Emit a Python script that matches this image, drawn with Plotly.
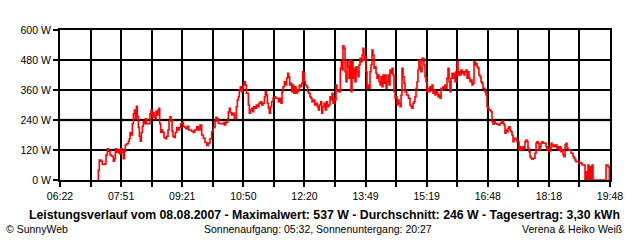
import plotly.graph_objects as go

# time in minutes after midnight, power in W
t1 = [437.5, 438.2, 439.6, 442.1, 444.0, 447.9, 449.4, 451.4, 452.8, 455.3, 457.7, 460.2, 461.6, 463.1, 465.0, 467.0,
      469.0, 470.9, 473.4, 474.8, 476.3, 477.8, 479.7, 482.2, 483.6, 484.6, 486.5, 488.0, 489.5, 491.0, 492.4,
      493.9, 495.3, 496.8, 498.3, 499.7, 501.2, 502.7, 504.1, 505.6, 507.1, 509.0, 511.5, 512.9, 513.9, 515.4,
      516.8, 518.3, 519.8, 521.2, 522.7, 524.2, 525.6, 527.1, 528.1, 529.5, 531.0, 532.5, 534.4, 536.4, 538.3,
      540.3, 541.8, 543.2, 544.7, 546.2, 547.6, 549.1, 551.0, 553.0, 555.0, 556.9, 558.9, 560.8, 562.8, 564.7,
      566.7, 568.6, 570.6, 572.5, 575.0, 577.4, 579.4]
p1 = [0, 40, 80, 75, 62, 65, 100, 125, 115, 100, 95, 75, 85, 125, 110, 120,
      105, 125, 110, 85, 115, 140, 145, 155, 165, 190, 180, 225, 265, 280, 245,
      295, 255, 210, 175, 155, 190, 215, 235, 225, 245, 225, 225, 225, 265, 280,
      250, 270, 255, 245, 275, 260, 280, 287, 225, 190, 200, 190, 170, 165, 175,
      200, 235, 253, 240, 195, 175, 170, 190, 210, 200, 210, 225, 230, 215, 210,
      205, 215, 200, 200, 195, 190, 200]

t2 = [582.3, 584.7, 587.2, 589.6, 592.1, 594.5, 597.0, 599.4, 601.8, 604.3, 606.7, 609.2, 610.6, 612.1, 614.0,
      616.5, 618.9, 621.4, 622.8, 624.8, 626.3, 627.7, 628.7, 630.2, 631.6, 633.6, 635.5, 637.5, 639.0, 640.4,
      641.9, 643.4, 644.8, 646.3, 647.8, 649.2, 650.7, 652.1, 653.6, 655.1, 656.5, 658.0, 659.5, 660.9, 662.9,
      664.4, 665.8, 667.8, 669.7, 671.7, 673.6, 675.6, 677.6, 679.5, 681.5, 682.9, 684.4, 685.9, 687.3, 688.8,
      690.3, 692.2, 694.2, 696.1, 698.1, 700.0, 702.0, 704.0, 705.9, 707.4, 708.8, 710.8, 712.2, 714.2, 715.7,
      717.1, 718.6, 720.1, 721.5, 723.0, 724.5, 726.4, 727.9, 729.3, 731.3, 732.8]
p2 = [213, 200, 220, 180, 167, 150, 138, 148, 165, 193, 210, 235, 251, 245, 227,
      225, 225, 230, 220, 232, 230, 245, 273, 287, 269, 260, 267, 247, 247, 293,
      320, 333, 360, 373, 353, 367, 380, 393, 380, 347, 347, 300, 267, 280, 287,
      273, 293, 287, 300, 293, 307, 313, 300, 307, 333, 353, 340, 307, 287, 267,
      293, 313, 327, 333, 327, 327, 313, 327, 307, 353, 373, 393, 380, 407, 427,
      413, 380, 387, 353, 380, 347, 373, 347, 353, 360, 380]

t3 = [733.7, 736.2, 737.6, 738.6, 740.1, 741.5, 743.5, 745.0, 746.4, 748.4, 749.8, 751.3, 753.3, 755.2, 757.2,
      759.1, 760.6, 762.0, 764.0, 765.5, 766.9, 768.9, 770.8, 772.3, 773.8, 775.7, 777.7, 779.1, 780.6, 782.1,
      783.5, 785.0, 786.5, 787.9, 789.4, 791.4, 792.8, 794.3, 795.8, 796.7, 798.2, 799.7, 801.1, 802.6, 804.1,
      805.5, 807.0, 808.5, 809.9, 811.4, 812.9, 814.3, 815.8, 817.3, 818.7, 820.2, 821.7, 823.1, 824.6, 826.1,
      827.5, 829.0, 830.4, 831.9, 833.4, 834.8, 836.3, 837.8, 839.2, 840.7, 842.2, 843.6, 845.1, 846.6, 848.0,
      849.5, 851.0, 852.4, 853.9, 855.4, 856.8, 858.3, 859.8, 861.2, 862.7, 864.2, 865.6, 867.1, 868.6, 870.0,
      871.5, 873.0, 874.4, 875.9, 877.4, 878.8, 880.3, 881.8, 883.2, 884.7, 886.2]
p3 = [373, 387, 433, 427, 393, 380, 373, 353, 347, 333, 327, 313, 320, 300, 307,
      293, 280, 300, 313, 267, 293, 307, 280, 313, 293, 300, 333, 320, 347, 307,
      327, 320, 380, 360, 353, 353, 447, 473, 440, 537, 527, 433, 393, 473, 453,
      407, 480, 353, 473, 407, 447, 393, 453, 433, 413, 460, 487, 473, 500, 527,
      480, 493, 433, 367, 380, 367, 433, 460, 520, 500, 447, 453, 427, 407, 420,
      393, 380, 413, 373, 420, 387, 420, 367, 393, 420, 380, 440, 427, 447, 420,
      353, 327, 333, 300, 320, 307, 293, 340, 447, 413, 387]

t4 = [887.6, 890.0, 892.5, 894.9, 896.4, 897.8, 899.3, 900.8, 902.2, 903.7, 905.2, 906.6, 908.1, 909.6, 911.0,
      912.5, 914.0, 915.4, 916.9, 918.4, 919.8, 921.3, 922.8, 924.2, 925.7, 927.2, 928.6, 930.1, 931.6, 933.0,
      934.5, 936.0, 937.4, 938.9, 940.4, 941.8, 943.3, 944.7, 946.2, 947.7, 949.1, 950.6, 952.1, 953.5, 955.0,
      956.5, 957.9, 959.4, 960.9, 962.3, 963.8, 965.3, 966.7, 968.2, 969.7, 971.1, 972.6, 974.1, 975.5, 977.0,
      978.5, 979.9, 981.4, 982.9, 984.3, 985.8, 987.3, 988.7, 990.2, 991.6, 993.1, 994.6, 996.0, 997.5, 999.0,
      1000.4, 1001.9, 1003.4, 1004.8, 1006.3, 1007.8, 1009.2, 1010.7, 1012.2, 1013.6, 1015.1, 1016.6, 1018.0,
      1019.5, 1021.0, 1022.4, 1024.4, 1026.8, 1029.3, 1031.2, 1032.7]
p4 = [353, 340, 327, 300, 293, 287, 307, 313, 333, 367, 393, 440, 480, 447, 433,
      487, 487, 460, 413, 393, 353, 367, 353, 373, 367, 380, 347, 360, 340, 353,
      347, 333, 340, 327, 367, 360, 373, 367, 380, 367, 407, 447, 393, 353, 407,
      427, 407, 427, 393, 433, 473, 420, 433, 420, 440, 427, 433, 420, 433, 440,
      407, 433, 407, 393, 400, 380, 387, 473, 460, 467, 453, 447, 420, 413, 393,
      387, 367, 367, 353, 340, 293, 287, 280, 280, 273, 233, 223, 233,
      227, 227, 223, 220, 227, 236, 227, 220]

t5 = [1034.1, 1035.6, 1037.1, 1038.5, 1040.0, 1041.5, 1042.9, 1044.4, 1045.9, 1047.3, 1048.8, 1050.3, 1051.7,
      1053.2, 1054.7, 1056.1, 1057.6, 1059.1, 1060.5, 1062.0, 1063.4, 1064.9, 1066.4, 1067.8, 1069.3, 1070.8,
      1072.2, 1073.7, 1075.2, 1076.6, 1078.1, 1079.6, 1081.0, 1082.5, 1084.0, 1085.4, 1086.9, 1088.4, 1089.8,
      1091.3, 1092.8, 1094.2, 1095.7, 1097.2, 1098.6, 1100.1, 1101.6, 1103.0, 1104.5, 1106.0, 1107.4, 1108.9,
      1110.3, 1111.8, 1113.3, 1114.7, 1116.2, 1117.7, 1119.1, 1120.6, 1122.1, 1123.5, 1125.0, 1126.5, 1127.9,
      1129.4, 1130.9, 1132.3, 1133.8, 1135.3, 1136.7, 1138.2, 1139.7, 1141.1, 1142.6, 1144.1, 1145.5, 1147.0,
      1148.5, 1149.9, 1151.4, 1152.9, 1154.3, 1155.8, 1157.3, 1158.7, 1160.2, 1161.6, 1163.1, 1182.2, 1183.6,
      1185.1, 1187.0]
p5 = [187, 200, 193, 207, 213, 200, 193, 180, 153, 167, 167, 160, 153,
      153, 120, 133, 120, 127, 133, 127, 153, 160, 153, 127, 113, 93,
      87, 83, 87, 87, 107, 147, 153, 147, 120, 133, 147, 153, 149,
      147, 147, 133, 120, 127, 113, 127, 147, 140, 133, 140, 133, 140,
      127, 133, 120, 133, 113, 120, 100, 93, 140, 147, 127, 120, 120,
      120, 107, 107, 93, 87, 80, 73, 73, 73, 67, 69, 67, 60,
      60, 60, 0, 33, 0, 60, 0, 53, 0, 60, 0, 60, 60,
      53, 0]

times = t1 + t2 + t3 + t4 + t5
power = p1 + p2 + p3 + p4 + p5

x_labels = ["06:22", "07:51", "09:21", "10:50", "12:20", "13:49", "15:19", "16:48", "18:18", "19:48"]
y_ticks = [0, 120, 240, 360, 480, 600]
y_labels = ["0 W", "120 W", "240 W", "360 W", "480 W", "600 W"]

title_text = ("Leistungsverlauf vom 08.08.2007 - Maximalwert: 537 W - Durchschnitt: 246 W - "
              "Tagesertrag: 3,30 kWh")
footer_left = "© SunnyWeb"
footer_mid = "Sonnenaufgang: 05:32, Sonnenuntergang: 20:27"
footer_right = "Verena & Heiko Weiß"

def to_min(s):
    h, m = s.split(":")
    return int(h) * 60 + int(m)

lab_min = [to_min(s) for s in x_labels]
x0 = lab_min[0]
x1 = 382 + 806  # 19:48
lab_pos = [x0 + i * (x1 - x0) / (len(x_labels) - 1) for i in range(len(x_labels))]
tickvals, ticktext = [], []
for i, v in enumerate(lab_pos):
    tickvals.append(v)
    ticktext.append(x_labels[i])
    if i < len(lab_pos) - 1:
        tickvals.append((v + lab_pos[i + 1]) / 2)
        ticktext.append("")

FONT = "Liberation Sans, Arial, sans-serif"
SMALL = 10.5

fig = go.Figure()
fig.add_trace(go.Scatter(x=times, y=power, mode="lines", line=dict(color="#ff0000", width=1.6, shape="hv"),
                         hoverinfo="skip", showlegend=False))

fig.add_shape(type="line", xref="paper", x0=0, x1=1, yref="y", y0=240, y1=240,
              line=dict(color="#808080", width=2.5), layer="between")

fig.update_xaxes(range=[x0, x1], tickmode="array", tickvals=tickvals, ticktext=ticktext,
                 showgrid=True, gridcolor="black", gridwidth=2,
                 showline=True, linecolor="black", linewidth=2, mirror=True,
                 ticks="outside", ticklen=5, tickwidth=2, tickcolor="black",
                 tickfont=dict(family=FONT, size=SMALL, color="black"), zeroline=False)
fig.update_yaxes(range=[0, 600], tickmode="array", tickvals=y_ticks, ticktext=y_labels,
                 showgrid=True, gridcolor="black", gridwidth=2,
                 showline=True, linecolor="black", linewidth=2, mirror=True,
                 ticks="outside", ticklen=5, tickwidth=2, tickcolor="black",
                 tickfont=dict(family=FONT, size=SMALL, color="black"), zeroline=False)

fig.add_annotation(text="<b>" + title_text + "</b>", xref="paper", yref="paper", x=0.0, y=0,
                   xanchor="left", yanchor="middle", showarrow=False, xshift=-33, yshift=-35,
                   font=dict(family=FONT, size=12.3, color="black"))
fig.add_annotation(text=footer_left, xref="paper", yref="paper", x=0, y=0, xanchor="left", yanchor="middle",
                   showarrow=False, xshift=-56, yshift=-48.5, font=dict(family=FONT, size=SMALL, color="black"))
fig.add_annotation(text=footer_mid, xref="paper", yref="paper", x=0, y=0, xanchor="left", yanchor="middle",
                   showarrow=False, xshift=142, yshift=-48.5, font=dict(family=FONT, size=SMALL, color="black"))
fig.add_annotation(text=footer_right, xref="paper", yref="paper", x=1, y=0, xanchor="right", yanchor="middle",
                   showarrow=False, xshift=14, yshift=-48.5, font=dict(family=FONT, size=SMALL, color="black"))

fig.update_layout(width=640, height=240, margin=dict(l=60, r=30, t=30, b=60),
                  paper_bgcolor="white", plot_bgcolor="white", font=dict(family=FONT, color="black"))

fig.write_html("out.html")
